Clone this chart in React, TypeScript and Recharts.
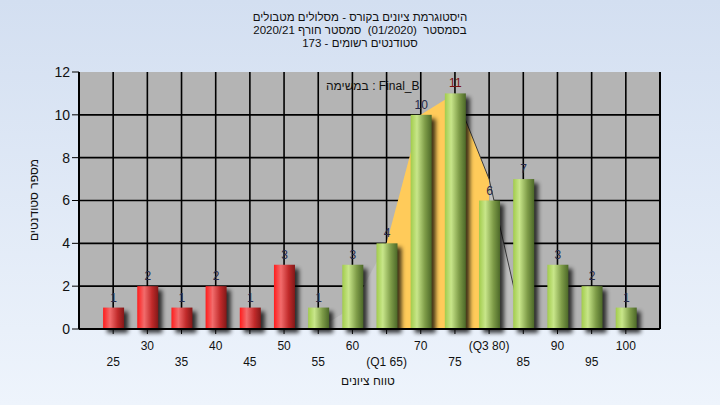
import React from 'react';
import { ComposedChart, Bar, Area, XAxis, YAxis, CartesianGrid, LabelList } from 'recharts';

// ---- data ----
const grades = [25, 30, 35, 40, 45, 50, 55, 60, 65, 70, 75, 80, 85, 90, 95, 100];
const counts = [1, 2, 1, 2, 1, 3, 1, 3, 4, 10, 11, 6, 7, 3, 2, 1];
const gradeLabels = ['25', '30', '35', '40', '45', '50', '55', '60', '(Q1 65)', '70', '75', '(Q3 80)', '85', '90', '95', '100'];
const iqrCurve = [null, null, null, null, null, null, null, null, 4, 10, 11, 7, null, null, null, null];
const tailCurve = [null, null, null, null, null, null, 0, 1, 4, null, null, 7, 0, null, null, null];
const tailLine = [null, null, null, null, null, null, null, null, null, null, 11, 7, 0, null, null, null];
const leftTicks = [0, 2, 4, 6, 8, 10, 12];
const rightTicks = [0, 2, 4, 6, 8, 10];
const leftGrid = [2, 4, 6, 8, 10];
const rightGrid = [2, 4, 6, 8];
const passGrade = 55;

const titleLines = [
  'היסטוגרמת ציונים בקורס - מסלולים מטבולים',
  'בסמסטר  (01/2020)  סמסטר חורף 2020/21',
  'סטודנטים רשומים - 173',
];
const yTitle = 'מספר סטודנטים';
const xTitle = 'טווח ציונים';
const legendText = 'במשימה : Final_B';

const data = grades.map((g, i) => ({
  grade: g,
  count: counts[i],
  iqr: iqrCurve[i],
  tail: tailCurve[i],
  tailLine: tailLine[i],
}));

const FONT = '"Liberation Sans", Arial, "DejaVu Sans", sans-serif';
const maxCount = Math.max(...counts);

const CylBar = (p: any) => {
  const { x, y, width, height, payload } = p;
  if (!height || height <= 0) return null;
  const grad = payload.grade < passGrade ? 'url(#redCyl)' : 'url(#greenCyl)';
  return (
    <g>
      <rect x={x + 4} y={y + 4} width={width} height={height} fill="#000" opacity={0.75} filter="url(#barShadow)" />
      <rect x={x} y={y} width={width} height={height} fill={grad} />
    </g>
  );
};

const BarLabel = (p: any) => {
  const { x, y, width, value } = p;
  return (
    <text x={x + width / 2} y={y - 6} textAnchor="middle" fontSize={12} fontFamily={FONT}
      fill={value === maxCount ? '#7a1010' : '#262a4a'}>
      {value}
    </text>
  );
};

const XTick = (p: any) => {
  const { x, y, payload } = p;
  const i = grades.indexOf(payload.value);
  const lower = i % 2 === 0;
  return (
    <text x={x} y={y} dy={lower ? 30 : 14} textAnchor="middle" fontSize={12} fontFamily={FONT} fill="#111">
      {gradeLabels[i]}
    </text>
  );
};

const overlay: React.CSSProperties = {
  position: 'absolute',
  fontFamily: FONT,
  fontSize: 12,
  color: '#111',
  whiteSpace: 'pre',
};

export default function App() {
  return (
    <div style={{ position: 'fixed', left: 0, top: 0, width: 720, height: 405, overflow: 'hidden',
      background: 'linear-gradient(to bottom, #d3dff1, #eef4fc)' }}>
      <ComposedChart width={720} height={405} data={data}
        margin={{ top: 72, right: 0, bottom: 16, left: 0 }}>
        <defs>
          <linearGradient id="redCyl" x1="0" y1="0" x2="1" y2="0">
            <stop offset="0" stopColor="#ff1c1c" />
            <stop offset="0.33" stopColor="#f26c6c" />
            <stop offset="0.7" stopColor="#c02a2a" />
            <stop offset="1" stopColor="#821818" />
          </linearGradient>
          <linearGradient id="greenCyl" x1="0" y1="0" x2="1" y2="0">
            <stop offset="0" stopColor="#a2cc4c" />
            <stop offset="0.3" stopColor="#c8e68a" />
            <stop offset="0.68" stopColor="#7e9c48" />
            <stop offset="1" stopColor="#4c6828" />
          </linearGradient>
          <filter id="barShadow" x="-50%" y="-50%" width="200%" height="200%">
            <feGaussianBlur stdDeviation="2" />
          </filter>
        </defs>
        <CartesianGrid yAxisId="left" fill="#b4b4b4" fillOpacity={1} stroke="#000" strokeWidth={1.6}
          horizontalValues={leftGrid} verticalValues={grades} />
        <CartesianGrid yAxisId="right" stroke="#000" strokeWidth={1.6} vertical={false}
          horizontalValues={rightGrid} />
        <XAxis dataKey="grade" type="number" domain={[20, 105]} ticks={grades} interval={0}
          tick={<XTick />} tickSize={5} tickLine={{ stroke: '#000' }}
          axisLine={{ stroke: '#000', strokeWidth: 2 }} height={60} />
        <YAxis yAxisId="left" orientation="left" type="number" domain={[0, 12]} ticks={leftTicks}
          interval={0} width={79} tickSize={7} tickMargin={2}
          tick={{ fontSize: 14, fill: '#111', fontFamily: FONT }}
          tickLine={{ stroke: '#000' }} axisLine={{ stroke: '#000', strokeWidth: 2 }} />
        <YAxis yAxisId="right" orientation="right" type="number" domain={[0, 10]} ticks={rightTicks}
          interval={0} width={60} tickSize={6} tickMargin={4}
          tick={{ fontSize: 13, fill: '#111', fontFamily: FONT }}
          tickLine={{ stroke: '#000' }} axisLine={{ stroke: '#000', strokeWidth: 2 }} />
        <Area yAxisId="left" type="linear" dataKey="tail" fill="#c0c0c0" fillOpacity={1} stroke="none"
          connectNulls={false} isAnimationActive={false} dot={false} activeDot={false} />
        <Area yAxisId="left" type="linear" dataKey="iqr" fill="#ffcb5a" fillOpacity={1} stroke="none"
          connectNulls={false} isAnimationActive={false} dot={false} activeDot={false} />
        <Area yAxisId="left" type="linear" dataKey="tailLine" fill="none" stroke="#3c3c3c" strokeWidth={1}
          connectNulls={false} isAnimationActive={false} dot={false} activeDot={false} />
        <Bar yAxisId="left" dataKey="count" barSize={21} shape={CylBar} isAnimationActive={false}>
          <LabelList dataKey="count" content={BarLabel} />
        </Bar>
      </ComposedChart>

      {titleLines.map((t, i) => (
        <div key={i} style={{ ...overlay, fontSize: 11.5, left: 0, width: 720, textAlign: 'center',
          top: 11 + i * 13, height: 13, lineHeight: '13px' }}>{t}</div>
      ))}
      <div style={{ ...overlay, left: 34, top: 200, transform: 'translate(-50%, -50%) rotate(-90deg)' }}>{yTitle}</div>
      <div style={{ ...overlay, left: 368, top: 381, transform: 'translate(-50%, -50%)' }}>{xTitle}</div>
      <div style={{ ...overlay, left: 326, top: 79, lineHeight: '14px' }}>{legendText}</div>
    </div>
  );
}
